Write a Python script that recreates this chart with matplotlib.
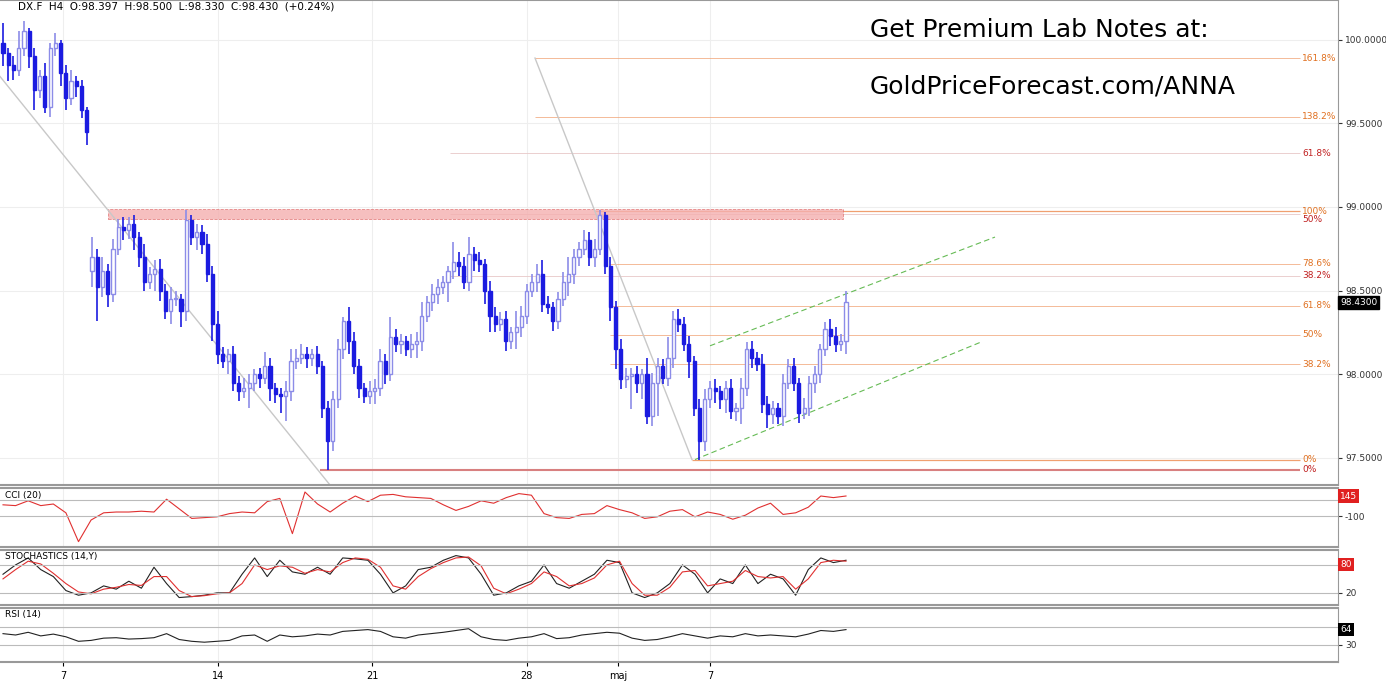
import numpy as np
import matplotlib.pyplot as plt

# H4 closes of DX.F
closes = [99.92, 99.85, 99.82, 99.95, 100.05, 99.9, 99.7, 99.78, 99.6, 99.95,
          99.98, 99.8, 99.65, 99.75, 99.72, 99.58, 99.45,
          98.7, 98.52, 98.62, 98.48, 98.75, 98.88, 98.86, 98.9, 98.82, 98.7,
          98.55, 98.6, 98.63, 98.5, 98.38, 98.45, 98.45, 98.38, 98.92,
          98.82, 98.85, 98.78, 98.6, 98.3, 98.12, 98.08, 98.12, 97.95, 97.9,
          97.92, 97.95, 98.0, 97.98, 98.05, 97.92, 97.88, 97.87, 97.9, 98.08,
          98.1, 98.12, 98.1, 98.12, 98.05, 97.8, 97.6, 97.85, 98.15, 98.32,
          98.2, 98.05, 97.92, 97.87, 97.9, 97.92, 98.08, 98.0, 98.22, 98.18,
          98.2, 98.15, 98.18, 98.2, 98.35, 98.43, 98.48, 98.52, 98.55, 98.62,
          98.67, 98.65, 98.55, 98.72, 98.68, 98.66, 98.5, 98.35, 98.3, 98.33,
          98.2, 98.25, 98.28, 98.35, 98.5, 98.55, 98.6, 98.42, 98.4, 98.32,
          98.45, 98.55, 98.6, 98.7, 98.75, 98.8, 98.7, 98.75, 98.95, 98.65,
          98.4, 98.15, 97.97, 97.99, 98.0, 97.95, 98.0, 97.75, 97.95, 98.05,
          97.98, 98.1, 98.33, 98.3, 98.18, 98.08, 97.8, 97.6, 97.85, 97.92,
          97.9, 97.85, 97.92, 97.78, 97.8, 97.92, 98.15, 98.1, 98.06, 97.82,
          97.76, 97.8, 97.75, 97.95, 98.05, 97.95, 97.77, 97.8, 97.95, 98.0,
          98.15, 98.27, 98.23, 98.18, 98.2, 98.43]
first_open = 99.98
gap_opens = {17: 98.62}
up_wick = [0.12, 0.03, 0.05, 0.1, 0.06, 0.02, 0.05, 0.04, 0.08, 0.03,
           0.06, 0.02, 0.05, 0.07, 0.03, 0.04, 0.02, 0.12, 0.05, 0.08,
           0.04, 0.06, 0.05, 0.06, 0.04, 0.05, 0.03, 0.08, 0.04, 0.05,
           0.06, 0.04, 0.07, 0.05, 0.03, 0.06, 0.03, 0.05, 0.04, 0.06,
           0.05, 0.08, 0.04, 0.03, 0.05, 0.04, 0.06, 0.05, 0.03, 0.04,
           0.08, 0.05, 0.03, 0.04, 0.06, 0.07, 0.05, 0.06, 0.04, 0.03,
           0.05, 0.03, 0.04, 0.05, 0.06, 0.02, 0.08, 0.05, 0.04, 0.03,
           0.06, 0.05, 0.07, 0.04, 0.12, 0.05, 0.04, 0.03, 0.06, 0.05,
           0.08, 0.04, 0.06, 0.05, 0.04, 0.03, 0.12, 0.06, 0.05, 0.1,
           0.04, 0.05, 0.03, 0.06, 0.05, 0.04, 0.05, 0.03, 0.1, 0.06,
           0.04, 0.05, 0.06, 0.08, 0.05, 0.03, 0.04, 0.06, 0.1, 0.05,
           0.04, 0.06, 0.05, 0.06, 0.03, 0.02, 0.05, 0.04, 0.06, 0.05,
           0.04, 0.05, 0.03, 0.1, 0.06, 0.05, 0.04, 0.12, 0.05, 0.06,
           0.04, 0.05, 0.03, 0.05, 0.06, 0.04, 0.05, 0.03, 0.04, 0.05,
           0.03, 0.06, 0.04, 0.05, 0.03, 0.06, 0.05, 0.04, 0.03, 0.05,
           0.04, 0.05, 0.03, 0.06, 0.04, 0.05, 0.03, 0.04, 0.06, 0.05,
           0.04, 0.07]
down_wick = [0.08, 0.1, 0.06, 0.04, 0.05, 0.07, 0.12, 0.05, 0.04, 0.06,
             0.05, 0.08, 0.07, 0.04, 0.06, 0.05, 0.08, 0.1, 0.2, 0.06,
             0.08, 0.05, 0.04, 0.06, 0.05, 0.08, 0.06, 0.05, 0.04, 0.1,
             0.06, 0.05, 0.08, 0.04, 0.1, 0.06, 0.05, 0.08, 0.06, 0.05,
             0.1, 0.06, 0.04, 0.08, 0.05, 0.06, 0.04, 0.12, 0.05, 0.06,
             0.04, 0.08, 0.05, 0.1, 0.15, 0.06, 0.05, 0.04, 0.06, 0.05,
             0.05, 0.06, 0.17, 0.06, 0.05, 0.06, 0.08, 0.05, 0.06, 0.04,
             0.05, 0.08, 0.05, 0.06, 0.04, 0.05, 0.06, 0.04, 0.05, 0.08,
             0.06, 0.04, 0.05, 0.06, 0.04, 0.12, 0.05, 0.06, 0.04, 0.05,
             0.06, 0.05, 0.08, 0.1, 0.05, 0.04, 0.06, 0.05, 0.1, 0.06,
             0.05, 0.04, 0.06, 0.05, 0.04, 0.06, 0.05, 0.04, 0.08, 0.06,
             0.05, 0.04, 0.05, 0.06, 0.04, 0.05, 0.08, 0.12, 0.06, 0.05,
             0.2, 0.06, 0.1, 0.05, 0.06, 0.2, 0.04, 0.05, 0.06, 0.05,
             0.04, 0.1, 0.05, 0.11, 0.06, 0.05, 0.07, 0.06, 0.08, 0.05,
             0.06, 0.1, 0.05, 0.06, 0.04, 0.05, 0.08, 0.06, 0.05, 0.06,
             0.04, 0.05, 0.06, 0.04, 0.05, 0.06, 0.05, 0.04, 0.06, 0.05,
             0.04, 0.08]
high_fix = {35: 98.98, 114: 98.98, 115: 98.97}
low_fix = {62: 97.43, 133: 97.49}

price_ticks = [100.0, 99.5, 99.0, 98.5, 98.0, 97.5]
date_labels = ["7", "14", "21", "28", "maj", "7"]
date_idx = [11.5, 41, 70.5, 100, 117.5, 135]

# retracement levels
fib_orange = [(97.49, "0%"), (98.06, "38.2%"), (98.235, "50%"), (98.41, "61.8%"),
              (98.66, "78.6%"), (98.975, "100%"), (99.54, "138.2%"), (99.89, "161.8%")]
fib_red = [(97.43, "0%"), (98.59, "38.2%"), (98.955, "50%"), (99.32, "61.8%")]

cci = [40, 30, 90, 30, 50, -60, -420, -150, -60, -50, -50, -40, -50, 110, -10, -130,
       -120, -110, -70, -50, -60, 80, 120, -320, 200, 50, -50, 60, 150, 80, 160, 170,
       140, 130, 120, 40, -30, 20, 90, 60, 130, 180, 160, -70, -120, -130, -80, -70,
       30, -20, -60, -130, -110, -40, -20, -110, -50, -80, -140, -90, 0, 60, -80,
       -60, 10, 150, 130, 150]
stoch_k = [60, 80, 95, 70, 55, 25, 15, 20, 35, 28, 45, 30, 75, 40, 10, 12, 15, 20, 20,
           60, 95, 55, 90, 65, 60, 75, 60, 95, 93, 90, 60, 20, 35, 70, 75, 90, 100, 95,
           60, 15, 20, 35, 45, 80, 40, 30, 45, 60, 90, 85, 20, 10, 20, 40, 80, 60, 20,
           50, 40, 80, 40, 60, 50, 15, 70, 95, 85, 90]
stoch_d = [50, 70, 88, 82, 62, 40, 22, 18, 28, 32, 38, 36, 55, 55, 25, 12, 14, 18, 20,
           40, 80, 70, 78, 75, 62, 70, 65, 85, 95, 92, 75, 35, 28, 55, 72, 85, 95, 97,
           78, 30, 18, 28, 40, 65, 55, 35, 40, 52, 80, 88, 40, 15, 15, 32, 65, 68, 35,
           40, 45, 68, 55, 52, 55, 28, 50, 85, 90, 88]
rsi = [55, 52, 58, 50, 54, 48, 38, 40, 45, 46, 43, 44, 46, 55, 42, 38, 36, 38, 40,
       50, 52, 38, 52, 48, 50, 54, 52, 60, 62, 64, 60, 48, 45, 52, 55, 58, 62, 66,
       48, 42, 40, 45, 48, 55, 44, 46, 52, 55, 58, 56, 45, 40, 42, 48, 55, 50, 45,
       50, 48, 55, 50, 52, 50, 48, 54, 62, 60, 64]

n = len(closes)
opens = [first_open] + closes[:-1]
for k, v in gap_opens.items():
    opens[k] = v
highs = [max(o, c) + w for o, c, w in zip(opens, closes, up_wick)]
lows = [min(o, c) - w for o, c, w in zip(opens, closes, down_wick)]
for k, v in high_fix.items():
    highs[k] = v
for k, v in low_fix.items():
    lows[k] = v

W, H = 1386, 682
px = 843 / (n - 1)           # pixels per candle
x0 = -3 / px
x1 = (1338 - 3) / px
def xi(p):                   # pixel column -> candle index
    return (p - 3) / px

fig = plt.figure(figsize=(13.86, 6.82), dpi=100)
def box(top, bot):
    return [0, 1 - bot / H, 1338 / W, (bot - top) / H]
ax = fig.add_axes(box(0, 485))
a1 = fig.add_axes(box(488, 547), sharex=ax)
a2 = fig.add_axes(box(550, 605), sharex=ax)
a3 = fig.add_axes(box(608, 662), sharex=ax)

dark = "#1b1be0"
light = "#8c8ce8"
for i in range(n):
    o, h, l, c = opens[i], highs[i], lows[i], closes[i]
    col = dark if c < o else light
    ax.vlines(i, l, h, color=col, lw=1.2, zorder=3)
    body = max(abs(c - o), 0.006)
    ax.add_patch(plt.Rectangle((i - 0.3, min(o, c)), 0.6, body,
                               facecolor=dark if c < o else "white",
                               edgecolor=col, lw=1, zorder=4))

ax.set_xlim(x0, x1)
ax.set_ylim(97.338, 100.237)
for p, lab in fib_orange:
    start = xi(535) if p > 99.3 else xi(610)
    if lab in ("0%", "100%"):
        start = xi(692) if lab == "0%" else xi(595)
    ax.hlines(p, start, xi(1300), color="#f0a070", lw=0.9 if lab in ("0%", "100%") else 0.5)
    ax.text(xi(1302), p, lab, color="#e07020", fontsize=6.5, va="center")
for p, lab in fib_red:
    start = xi(320) if lab == "0%" else xi(450)
    ax.hlines(p, start, xi(1300), color="#d88080" if lab == "0%" else "#e8c8c8",
              lw=1.5 if lab == "0%" else 0.6)
    ax.text(xi(1302), p - 0.03 if lab == "50%" else p, lab, color="#c02020",
            fontsize=6.5, va="center")
ax.add_patch(plt.Rectangle((xi(108), 98.93), xi(843) - xi(108), 0.06,
                           facecolor="#f4b0b0", edgecolor="#e07070", lw=0.6,
                           ls="--", alpha=0.8, zorder=2))
ax.plot([xi(0), xi(330)], [99.78, 97.338], color="#c8c8c8", lw=1)
ax.plot([xi(535), xi(692)], [99.89, 97.49], color="#c8c8c8", lw=1)
ax.plot([xi(695), xi(980)], [97.49, 98.19], color="#66bb55", lw=0.8, ls=(0, (5, 3)))
ax.plot([xi(710), xi(995)], [98.17, 98.82], color="#66bb55", lw=0.8, ls=(0, (5, 3)))

for a in (ax, a1, a2, a3):
    a.yaxis.tick_right()
    a.tick_params(axis="y", labelsize=6.5, length=3, pad=2, colors="#333333")
    a.tick_params(axis="x", length=0, labelbottom=False)
    for s in ("top", "bottom"):
        a.spines[s].set_color("#999999")
        a.spines[s].set_linewidth(1.5)
    a.spines["left"].set_visible(False)
    a.spines["right"].set_color("#999999")
    for d in date_idx:
        a.axvline(d, color="#eeeeee", lw=0.8, zorder=0)

ax.set_yticks(price_ticks)
ax.set_yticklabels(["%.4f" % v for v in price_ticks])
for v in price_ticks:
    ax.axhline(v, color="#eeeeee", lw=0.8, zorder=0)
ax.text(x1 + 0.4, closes[-1], "%.4f" % closes[-1], color="white", fontsize=6.5,
        va="center", bbox=dict(fc="black", ec="black", pad=1.5))
ax.text(xi(18), 99.0 + 200 / 167.3, "DX.F  H4  O:98.397  H:98.500  L:98.330  C:98.430  (+0.24%)",
        fontsize=7.5, va="center")
fig.text(870 / W, 1 - 30 / H, "Get Premium Lab Notes at:", fontsize=18, va="center")
fig.text(870 / W, 1 - 86 / H, "GoldPriceForecast.com/ANNA", fontsize=18, va="center")

def ind_x(vals):
    return np.linspace(0, n - 1, len(vals))

a1.plot(ind_x(cci), cci, color="#e03030", lw=0.8)
a1.set_ylim(-487, 250)
for v in (100, -100):
    a1.axhline(v, color="#bbbbbb", lw=0.8)
a1.set_yticks([-100])
a1.set_yticklabels(["-100"])
a1.text(x1 + 0.4, cci[-1], str(cci[-1] - 5), color="white", fontsize=6.5, va="center",
        bbox=dict(fc="#e02020", ec="none", pad=1.5))
a1.text(xi(5), 215, "CCI (20)", fontsize=6.5, va="top")

a2.plot(ind_x(stoch_k), stoch_k, color="#222222", lw=0.8)
a2.plot(ind_x(stoch_d), stoch_d, color="#e03030", lw=0.8)
a2.set_ylim(-6, 112)
for v in (80, 20):
    a2.axhline(v, color="#bbbbbb", lw=0.8)
a2.set_yticks([20])
a2.text(x1 + 0.4, 80, "80", color="white", fontsize=6.5, va="center",
        bbox=dict(fc="#e02020", ec="none", pad=1.5))
a2.text(xi(5), 108, "STOCHASTICS (14,Y)", fontsize=6.5, va="top")

a3.plot(ind_x(rsi), rsi, color="#222222", lw=0.8)
a3.set_ylim(-8, 112)
for v in (70, 30):
    a3.axhline(v, color="#bbbbbb", lw=0.8)
a3.set_yticks([30])
a3.text(x1 + 0.4, rsi[-1], str(rsi[-1]), color="white", fontsize=6.5, va="center",
        bbox=dict(fc="black", ec="none", pad=1.5))
a3.text(xi(5), 108, "RSI (14)", fontsize=6.5, va="top")
a3.set_xticks(date_idx)
a3.set_xticklabels(date_labels)
a3.tick_params(axis="x", labelbottom=True, labelsize=7, length=3)

fig.savefig("out.png", dpi=100)
